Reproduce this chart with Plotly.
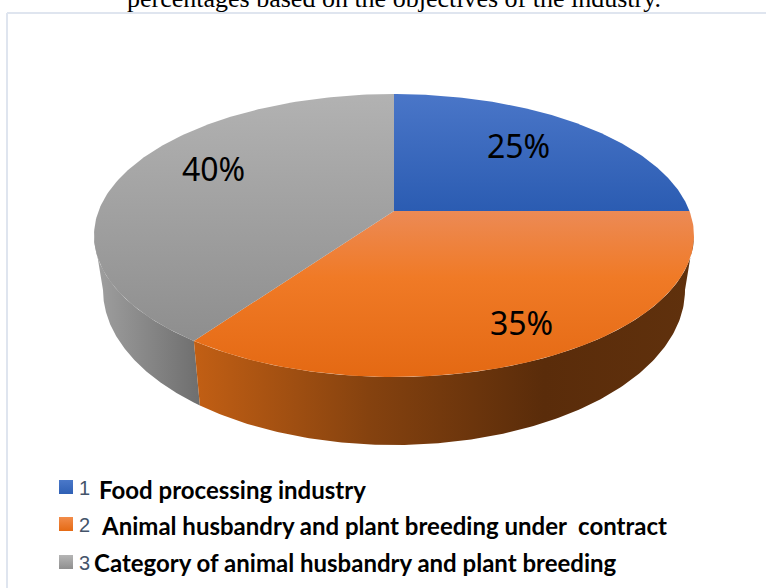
import numpy as np
import plotly.graph_objects as go

# ---- data ----
numbers = ["1", "2", "3"]
categories = [
    "Food processing industry",
    "Animal husbandry and plant breeding under  contract",
    "Category of animal husbandry and plant breeding",
]
values = [25, 35, 40]
title_text = "percentages based on the objectives of the industry."

# ---- styles ----
top_scales = [
    [[0, "#2b5cb2"], [1, "#4a76c8"]],
    [[0, "#e46913"], [0.6, "#f07a26"], [1, "#ec8a55"]],
    [[0, "#8e8e8e"], [1, "#b2b2b2"]],
]
orange_wall = [[0, "#c25f14"], [0.35, "#85420f"], [0.7, "#5a2c0a"], [1, "#60310d"]]
gray_wall = [[0, "#a0a0a0"], [1, "#6e6e6e"]]
swatch_colors = [("#4a78c9", "#2f60b5"), ("#f28c4a", "#e56a14"), ("#b5b5b5", "#8f8f8f")]

# ---- projection of the 3D disc onto the page ----
CX, CY, RX, RY = 394.0, 235.5, 300.0, 141.5   # top ellipse
LX, LY, LRX, LRY = 394.0, 290.0, 291.0, 155.0  # bottom ellipse
APEX = 24.5 / RY


def boundary_phi(fraction):
    """Ellipse parameter where the slice boundary at this value fraction meets the rim."""
    if fraction <= 0:
        return 0.0
    if fraction >= 1:
        return 2 * np.pi
    th = 2 * np.pi * fraction
    dx, dy = np.sin(th), np.cos(th)
    b = APEX * dy
    t = -b + np.sqrt(b * b + 1 - APEX**2)
    ux, uy = dx * t, APEX + dy * t
    return float(np.arctan2(ux, uy) % (2 * np.pi))


def arc(phi0, phi1, cx, cy, rx, ry, n=160):
    p = np.linspace(phi0, phi1, n)
    return cx + rx * np.sin(p), cy - ry * np.cos(p)


total = sum(values)
cum = np.concatenate([[0], np.cumsum(values)]) / total
phis = [boundary_phi(f) for f in cum]

fig = go.Figure()


def wall(phi0, phi1, scale, name):
    x0, y0 = arc(phi0, phi1, CX, CY, RX, RY)
    x1, y1 = arc(phi1, phi0, LX, LY, LRX, LRY)
    fig.add_trace(go.Scatter(
        x=np.concatenate([x0, x1]), y=np.concatenate([y0, y1]),
        mode="lines", line=dict(width=0), fill="toself",
        fillgradient=dict(type="horizontal", colorscale=scale),
        hoverinfo="skip", showlegend=False, name=name))


wall(phis[2], 1.5 * np.pi, gray_wall, categories[2])
wall(0.5 * np.pi, phis[2], orange_wall, categories[1])

apex_x, apex_y = CX, CY - APEX * RY
for i, cat in enumerate(categories):
    ax, ay = arc(phis[i], phis[i + 1], CX, CY, RX, RY)
    fig.add_trace(go.Scatter(
        x=np.concatenate([[apex_x], ax, [apex_x]]),
        y=np.concatenate([[apex_y], ay, [apex_y]]),
        mode="lines", line=dict(width=0), fill="toself",
        fillgradient=dict(type="vertical", colorscale=top_scales[i]),
        name=cat, hoverinfo="name", showlegend=False))

# legend swatches
swatch_x = 66
swatch_y = [487, 524, 562]
for yy, (c0, c1) in zip(swatch_y, swatch_colors):
    fig.add_trace(go.Scatter(
        x=[swatch_x], y=[yy], mode="markers", hoverinfo="skip", showlegend=False,
        marker=dict(symbol="square", size=14, color=c0,
                    gradient=dict(type="vertical", color=c1), line=dict(width=0))))

ann = []
# percent labels
label_pos = [(518, 145), (521, 322), (213, 168)]
for v, (x, y) in zip(values, label_pos):
    ann.append(dict(x=x, y=y, text=f"{v}%", showarrow=False, xanchor="center", yanchor="middle",
                    font=dict(family="Noto Sans", size=32, color="#000000")))
# legend text
num_x = [84, 84, 84]
text_x = [97, 99, 92]
text_y = [489, 525, 562]
for n, cat, nx, tx, ty, yy in zip(numbers, categories, num_x, text_x, text_y, swatch_y):
    ann.append(dict(x=nx, y=yy + 1, text=n, showarrow=False, xanchor="center", yanchor="middle",
                    font=dict(family="Liberation Sans", size=20, color="#44546a")))
    ann.append(dict(x=tx, y=ty, text=cat, showarrow=False, xanchor="left", yanchor="middle",
                    font=dict(family="Lato", size=24, color="#000000", weight="bold")))
# clipped heading above the card
ann.append(dict(x=394, y=15, text=title_text, showarrow=False, xanchor="center", yanchor="bottom",
                font=dict(family="Liberation Serif", size=26, color="#000000")))

fig.update_layout(
    width=766, height=588, margin=dict(l=0, r=0, t=0, b=0),
    paper_bgcolor="white", plot_bgcolor="white", showlegend=False,
    xaxis=dict(range=[0, 766], visible=False, fixedrange=True),
    yaxis=dict(range=[588, 0], visible=False, fixedrange=True),
    annotations=ann,
    shapes=[
        dict(type="line", xref="x", yref="y", x0=7, x1=7, y0=13, y1=588,
             line=dict(color="#dfe5ef", width=2), layer="below"),
        dict(type="line", xref="x", yref="y", x0=7, x1=766, y0=13, y1=13,
             line=dict(color="#dfe5ef", width=2), layer="below"),
    ],
)
fig.write_html("out.html", config=dict(displayModeBar=False),
               post_script="document.body.style.margin='0';")
